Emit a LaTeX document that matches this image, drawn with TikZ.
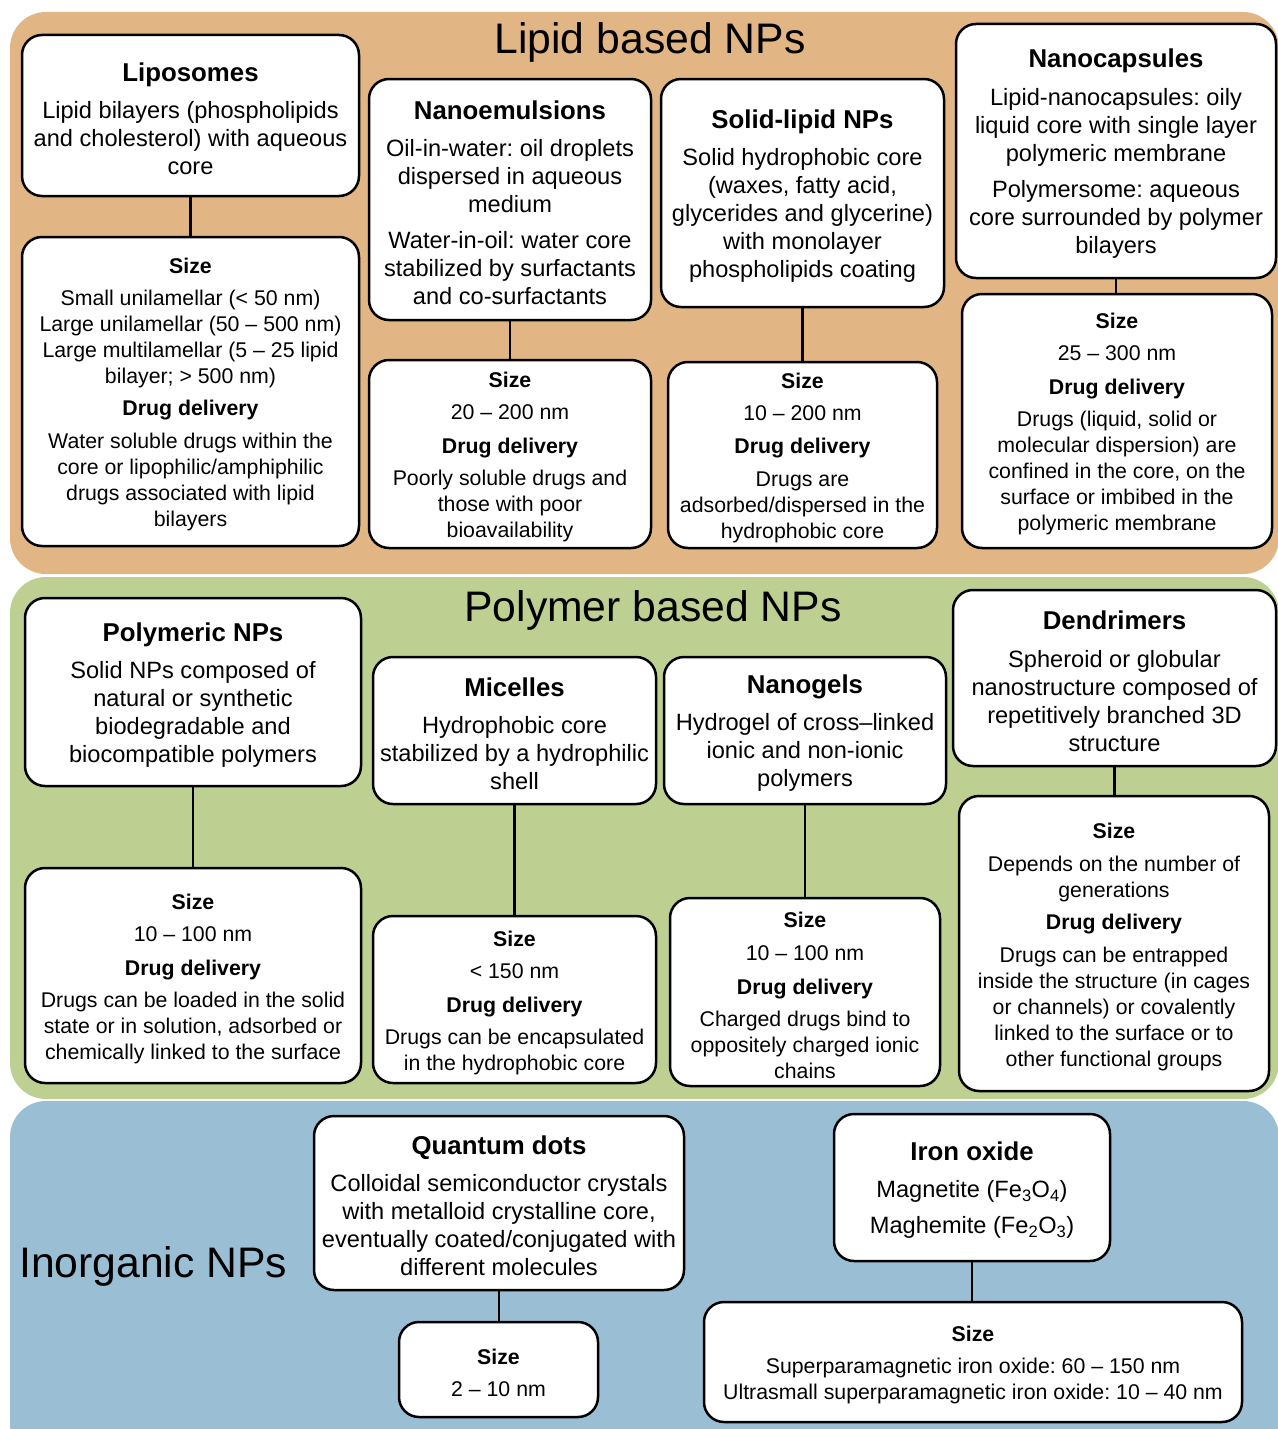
\documentclass[tikz,border=0pt]{standalone}
\usepackage{fontspec}
\setmainfont{Liberation Sans}
\frenchspacing
\definecolor{lipidbg}{HTML}{E1B584}
\definecolor{polybg}{HTML}{BDD092}
\definecolor{inorgbg}{HTML}{9ABFD4}
\newcommand\boxhead[1]{{\bfseries\fontsize{25.8}{28}\selectfont\rule{0pt}{24.5pt}#1}}
\newcommand\sizehead[1]{{\bfseries\fontsize{21.3}{26}\selectfont #1}}
\newcommand\sizestart{\rule{0pt}{21.5pt}}
\tikzset{
  box/.style={draw, line width=2.5pt, rounded corners=20pt, fill=white, align=center, inner sep=2pt},
  topfont/.style={font=\fontsize{23.6}{28}\selectfont},
  sizefont/.style={font=\fontsize{21.3}{26}\selectfont},
  conn/.style={line width=2.5pt},
  bigtitle/.style={font=\fontsize{42.7}{48}\selectfont, inner sep=0pt, anchor=base},
  bg/.style={rounded corners=36pt}
}
\begin{document}
\begin{tikzpicture}[x=1pt,y=-1pt]
\useasboundingbox (0,0) rectangle (1277,1429);
% backgrounds
\fill[lipidbg, bg] (10,12) rectangle (1279,574);
\fill[polybg, bg] (10,577) rectangle (1279,1099);
\fill[inorgbg, bg] (10,1101) rectangle (1279,1460);

% titles
\node[bigtitle] (tlipid) at (650,54) {Lipid based NPs};
\node[bigtitle] (tpoly) at (653,621) {Polymer based NPs};
\node[bigtitle, anchor=base west] (tinorg) at (19,1277) {Inorganic NPs};

% Lipid based
\node[box, topfont, minimum width=337pt, minimum height=161pt] (lipo) at (190.5,115.5)
 {\boxhead{Liposomes}\\[9pt] Lipid bilayers (phospholipids\\ and cholesterol) with aqueous\\ core};
\node[box, sizefont, minimum width=337pt, minimum height=309pt] (lipoS) at (190.5,391.5)
 {\sizestart\sizehead{Size}\\[6pt] Small unilamellar (< 50 nm)\\ Large unilamellar (50 -- 500 nm)\\ Large multilamellar (5 -- 25 lipid\\ bilayer; > 500 nm)\\[6pt] \sizehead{Drug delivery}\\[7pt] Water soluble drugs within the\\ core or lipophilic/amphiphilic\\ drugs associated with lipid\\ bilayers};

\node[box, topfont, minimum width=282pt, minimum height=241pt] (emul) at (510,199.5)
 {\boxhead{Nanoemulsions}\\[9pt] Oil-in-water: oil droplets\\ dispersed in aqueous\\ medium\\[8pt] Water-in-oil: water core\\ stabilized by surfactants\\ and co-surfactants};
\node[box, sizefont, minimum width=282pt, minimum height=188pt] (emulS) at (510,454)
 {\sizestart\sizehead{Size}\\[6pt] 20 -- 200 nm\\[8pt] \sizehead{Drug delivery}\\[6pt] Poorly soluble drugs and\\ those with poor\\ bioavailability};

\node[box, topfont, minimum width=283pt, minimum height=228pt] (sln) at (802.5,193)
 {\boxhead{Solid-lipid NPs}\\[9pt] Solid hydrophobic core\\ (waxes, fatty acid,\\ glycerides and glycerine)\\ with monolayer\\ phospholipids coating};
\node[box, sizefont, minimum width=269pt, minimum height=186pt] (slnS) at (802.5,455)
 {\sizestart\sizehead{Size}\\[6pt] 10 -- 200 nm\\[7pt] \sizehead{Drug delivery}\\[7pt] Drugs are\\ adsorbed/dispersed in the\\ hydrophobic core};

\node[box, topfont, minimum width=320pt, minimum height=254pt] (caps) at (1116,151)
 {\boxhead{Nanocapsules}\\[10pt] Lipid-nanocapsules: oily\\ liquid core with single layer\\ polymeric membrane\\[8pt] Polymersome: aqueous\\ core surrounded by polymer\\ bilayers};
\node[box, sizefont, minimum width=310pt, minimum height=254pt] (capsS) at (1117,421)
 {\sizestart\sizehead{Size}\\[6pt] 25 -- 300 nm\\[8pt] \sizehead{Drug delivery}\\[6pt] Drugs (liquid, solid or\\ molecular dispersion) are\\ confined in the core, on the\\ surface or imbibed in the\\ polymeric membrane};

% Polymer based
\node[box, topfont, minimum width=336pt, minimum height=188pt] (poly) at (193,692)
 {\boxhead{Polymeric NPs}\\[9pt] Solid NPs composed of\\ natural or synthetic\\ biodegradable and\\ biocompatible polymers};
\node[box, sizefont, minimum width=336pt, minimum height=215pt] (polyS) at (193,975.5)
 {\sizestart\sizehead{Size}\\[6pt] 10 -- 100 nm\\[8pt] \sizehead{Drug delivery}\\[6pt] Drugs can be loaded in the solid\\ state or in solution, adsorbed or\\ chemically linked to the surface};

\node[box, topfont, minimum width=283pt, minimum height=147pt] (mic) at (514.5,730.5)
 {\boxhead{Micelles}\\[9pt] Hydrophobic core\\ stabilized by a hydrophilic\\ shell};
\node[box, sizefont, minimum width=283pt, minimum height=167pt] (micS) at (514.5,999.5)
 {\sizestart\sizehead{Size}\\[6pt] < 150 nm\\[8pt] \sizehead{Drug delivery}\\[6pt] Drugs can be encapsulated\\ in the hydrophobic core};

\node[box, topfont, minimum width=282pt, minimum height=147pt] (gel) at (805,730.5)
 {\boxhead{Nanogels}\\[9pt] Hydrogel of cross--linked\\ ionic and non-ionic\\ polymers};
\node[box, sizefont, minimum width=270pt, minimum height=188pt] (gelS) at (805,992)
 {\sizestart\sizehead{Size}\\[7pt] 10 -- 100 nm\\[8pt] \sizehead{Drug delivery}\\[6pt] Charged drugs bind to\\ oppositely charged ionic\\ chains};

\node[box, topfont, minimum width=323pt, minimum height=176pt] (den) at (1114.5,678)
 {\boxhead{Dendrimers}\\[10pt] Spheroid or globular\\ nanostructure composed of\\ repetitively branched 3D\\ structure};
\node[box, sizefont, minimum width=310pt, minimum height=295pt] (denS) at (1114,943.5)
 {\sizestart\sizehead{Size}\\[7pt] Depends on the number of\\ generations\\[6pt] \sizehead{Drug delivery}\\[7pt] Drugs can be entrapped\\ inside the structure (in cages\\ or channels) or covalently\\ linked to the surface or to\\ other functional groups};

% Inorganic
\node[box, topfont, minimum width=370pt, minimum height=174pt] (qd) at (499,1203)
 {\boxhead{Quantum dots}\\[9pt] Colloidal semiconductor crystals\\ with metalloid crystalline core,\\ eventually coated/conjugated with\\ different molecules};
\node[box, sizefont, minimum width=199pt, minimum height=95pt] (qdS) at (498.5,1369.5)
 {\sizestart\sizehead{Size}\\[6pt] 2 -- 10 nm};

\node[box, topfont, minimum width=276pt, minimum height=147pt] (iron) at (972,1187.5)
 {\boxhead{Iron oxide}\\[9pt] Magnetite (Fe\textsubscript{3}O\textsubscript{4})\\[8pt] Maghemite (Fe\textsubscript{2}O\textsubscript{3})};
\node[box, sizefont, minimum width=538pt, minimum height=120pt] (ironS) at (973,1362)
 {\sizestart\sizehead{Size}\\[6pt] Superparamagnetic iron oxide: 60 -- 150 nm\\ Ultrasmall superparamagnetic iron oxide: 10 -- 40 nm};

% connectors
\foreach \a/\b in {lipo/lipoS, emul/emulS, sln/slnS, caps/capsS, poly/polyS, mic/micS, gel/gelS, den/denS, qd/qdS, iron/ironS}
  \draw[conn] (\a.south) -- (\a.south |- \b.north);
\end{tikzpicture}
\end{document}
